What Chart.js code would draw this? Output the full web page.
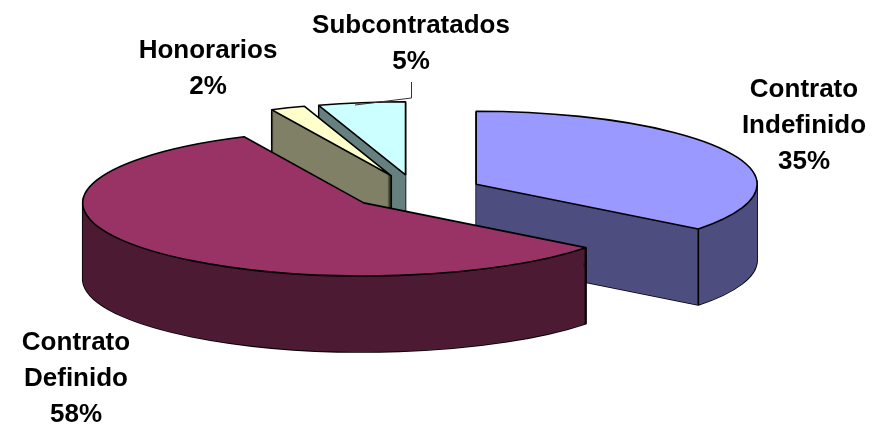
<!DOCTYPE html>
<html>
<head>
<meta charset="utf-8">
<script src="https://cdn.jsdelivr.net/npm/chart.js@4"></script>
<style>
html, body { margin: 0; padding: 0; background: #fff; }
#wrap { width: 883px; height: 424px; }
</style>
</head>
<body>
<div id="wrap"><canvas id="pastel"></canvas></div>
<script>
const categorias = ['Contrato Indefinido', 'Contrato Definido', 'Honorarios', 'Subcontratados'];
const valores = [35.49, 57.51, 2, 5];
const colores = ['#9999FF', '#993366', '#FFFFCC', '#CCFFFF'];
const coloresLado = ['#4D4D80', '#4D1A33', '#808066', '#668080'];

// lines of each label and where they sit
const lineasEtiqueta = [['Contrato', 'Indefinido'], ['Contrato', 'Definido'], ['Honorarios'], ['Subcontratados']];
const posEtiqueta = [[804, 88], [76, 341], [208, 49], [411, 24]];
const ordenPintado = [3, 2, 0, 1];

const inclinacion = 0.26;
const profundidad = 76;
const separacion = 67;
const radio = 281;

function centro(arc) {
    const mitad = (arc.startAngle + arc.endAngle) / 2;
    return [
        arc.x + Math.cos(mitad) * separacion,
        arc.y + Math.sin(mitad) * separacion * inclinacion
    ];
}

function capa(ctx, arc, baja) {
    const [cx, cy] = centro(arc);
    ctx.moveTo(cx, cy + baja);
    ctx.ellipse(cx, cy + baja, arc.outerRadius, arc.outerRadius * inclinacion, 0, arc.startAngle, arc.endAngle);
    ctx.closePath();
}

// vertical edges, only the ones on the front half can be seen
function aristas(ctx, arc) {
    const [cx, cy] = centro(arc);
    const r = arc.outerRadius;
    ctx.beginPath();
    [arc.startAngle, arc.endAngle].forEach(a => {
        if (Math.sin(a) <= 0) return;
        const x = cx + Math.cos(a) * r;
        const y = cy + Math.sin(a) * r * inclinacion;
        ctx.moveTo(x, y);
        ctx.lineTo(x, y + profundidad);
    });
    ctx.stroke();
}

const pastel3d = {
    id: 'pastel3d',
    beforeDatasetsDraw(chart) {
        const ctx = chart.ctx;
        const arcos = chart.getDatasetMeta(0).data;
        ctx.save();
        ctx.lineJoin = 'round';
        ctx.strokeStyle = '#000';
        ctx.lineWidth = 1.6;
        ordenPintado.forEach(i => {
            const arc = arcos[i];
            // black silhouette first, then the side colour on top of it
            ctx.beginPath();
            for (let k = profundidad; k > 0; k--) {
                capa(ctx, arc, k);
            }
            ctx.stroke();
            ctx.fillStyle = coloresLado[i];
            ctx.fill();
            aristas(ctx, arc);
            ctx.beginPath();
            capa(ctx, arc, 0);
            ctx.fillStyle = colores[i];
            ctx.fill();
            ctx.stroke();
        });
        ctx.restore();
        return false;
    },
    afterDraw(chart) {
        const ctx = chart.ctx;
        ctx.save();
        // leader line of Subcontratados
        ctx.strokeStyle = '#333';
        ctx.lineWidth = 1;
        ctx.beginPath();
        ctx.moveTo(411.5, 82);
        ctx.lineTo(411.5, 98);
        ctx.lineTo(355, 105);
        ctx.stroke();

        ctx.fillStyle = '#000';
        ctx.font = 'bold 26px "Liberation Sans", Arial, sans-serif';
        ctx.textAlign = 'center';
        ctx.textBaseline = 'middle';
        lineasEtiqueta.forEach((lineas, i) => {
            const texto = lineas.concat(Math.round(valores[i]) + '%');
            texto.forEach((t, j) => {
                ctx.fillText(t, posEtiqueta[i][0], posEtiqueta[i][1] + 2 + j * 36);
            });
        });
        ctx.restore();
    }
};

new Chart(document.getElementById('pastel'), {
    type: 'pie',
    data: {
        labels: categorias,
        datasets: [{
            data: valores,
            backgroundColor: colores
        }]
    },
    options: {
        responsive: true,
        maintainAspectRatio: false,
        animation: false,
        radius: radio,
        layout: { padding: { right: 51, bottom: 40 } },
        plugins: {
            legend: { display: false },
            tooltip: { enabled: false }
        }
    },
    plugins: [pastel3d]
});
</script>
</body>
</html>
